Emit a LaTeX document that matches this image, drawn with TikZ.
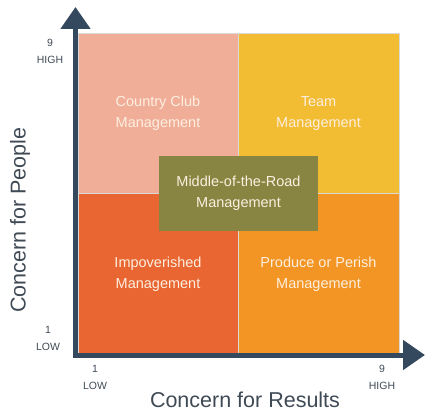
\documentclass[tikz,border=0pt]{standalone}
\usepackage{fontspec}
\setmainfont{Liberation Sans}
\usetikzlibrary{arrows.meta}
\definecolor{ccl}{HTML}{F0AE98}
\definecolor{team}{HTML}{F2BC33}
\definecolor{impo}{HTML}{E96531}
\definecolor{prod}{HTML}{F29524}
\definecolor{midr}{HTML}{878541}
\definecolor{axisc}{HTML}{34495E}
\definecolor{txtc}{HTML}{FDEFE0}
\definecolor{lblc}{HTML}{3F4A55}
\tikzset{
  quad/.style={draw=white!85!black, line width=0.8pt, inner sep=0pt},
  qtext/.style={text=txtc, font=\fontsize{14.5}{21}\selectfont, align=center},
  tick/.style={text=lblc, font=\fontsize{10.5}{17}\selectfont, align=center},
  axlbl/.style={text=lblc, font=\fontsize{21.5}{24}\selectfont},
  axisline/.style={draw=axisc, line width=5pt, -{Triangle[length=22pt, width=29pt]}}
}
\begin{document}
\begin{tikzpicture}[x=1pt,y=1pt]
\useasboundingbox (0,0) rectangle (440,416);
% quadrants (y flipped: Y = 416 - y)
\node[quad, fill=ccl, minimum width=160pt, minimum height=160pt] (cc) at (158,303) {};
\node[quad, fill=team, minimum width=161pt, minimum height=160pt] (tm) at (318.5,303) {};
\node[quad, fill=impo, minimum width=160pt, minimum height=160pt] (im) at (158,143) {};
\node[quad, fill=prod, minimum width=161pt, minimum height=160pt] (pp) at (318.5,143) {};
% quadrant texts
\node[qtext] (cct) at (158,302.5) {Country Club\\Management};
\node[qtext] (tmt) at (318.5,302.5) {Team\\Management};
\node[qtext] (imt) at (158,142) {Impoverished\\Management};
\node[qtext] (ppt) at (318.5,142) {Produce or Perish\\Management};
% middle
\node[fill=midr, minimum width=159pt, minimum height=75pt, inner sep=0pt, qtext] (mr) at (238.5,222.5) {Middle-of-the-Road\\Management};
% axes
\coordinate (org) at (75.5,59);
\coordinate (ytop) at (75.5,409);
\coordinate (xend) at (425,61);
\coordinate (xorg) at (73,61);
\draw[axisline] (org) -- (ytop);
\draw[axisline] (xorg) -- (xend);
% ticks
\node[tick] (yh) at (50,364.5) {9\\HIGH};
\node[tick] (yl) at (48,78) {1\\LOW};
\node[tick] (xl) at (95,38.5) {1\\LOW};
\node[tick] (xh) at (382,38.5) {9\\HIGH};
% axis labels
\node[axlbl] (xlab) at (245,16) {Concern for Results};
\node[axlbl, rotate=90] (ylab) at (20,196) {Concern for People};
\end{tikzpicture}
\end{document}
